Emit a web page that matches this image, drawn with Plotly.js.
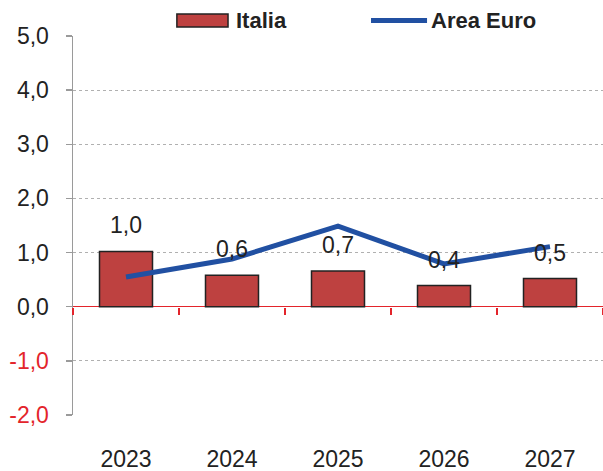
<!DOCTYPE html>
<html>
<head>
<meta charset="utf-8">
<script src="https://cdn.plot.ly/plotly-3.0.1.min.js"></script>
<style>html,body{margin:0;padding:0;background:#fff;}#chart{width:603px;height:471px;}</style>
</head>
<body>
<div id="chart"></div>
<script>
// Data
var categories = ['2023', '2024', '2025', '2026', '2027'];
var italia = [1.02, 0.58, 0.66, 0.39, 0.52];
var italiaLabels = ['1,0', '0,6', '0,7', '0,4', '0,5'];
var areaEuro = [0.55, 0.88, 1.49, 0.79, 1.11];
var yTickVals = [-2, -1, 0, 1, 2, 3, 4, 5];
var seriesNames = ['Italia', 'Area Euro'];

var RED = '#e3242b';
var FONT = '"Liberation Sans", Arial, sans-serif';

var yTickText = yTickVals.map(function (v) {
  var s = v.toFixed(1).replace('.', ',');
  return v < 0 ? '<span style="color:' + RED + '">' + s + '</span>' : s;
});
var boundaries = categories.map(function (_, i) { return i - 0.5; });
boundaries.push(categories.length - 0.5);

var traces = [
  {
    type: 'bar', name: seriesNames[0], x: categories, y: italia,
    marker: { color: '#be4140', line: { color: '#222', width: 1.5 } },
    hoverinfo: 'skip', showlegend: false
  },
  {
    type: 'scatter', mode: 'lines', name: seriesNames[1], x: categories, y: areaEuro,
    line: { color: '#2150a2', width: 5 },
    hoverinfo: 'skip', showlegend: false
  },
  {
    // invisible helper so the boundary-tick axis at zero is drawn
    type: 'scatter', mode: 'markers', x: boundaries, y: boundaries.map(function () { return 0; }),
    xaxis: 'x2', yaxis: 'y', marker: { opacity: 0, size: 1 },
    hoverinfo: 'skip', showlegend: false
  }
];

var annotations = categories.map(function (c, i) {
  return {
    x: i, y: italia[i], xref: 'x', yref: 'y', text: italiaLabels[i],
    showarrow: false, yanchor: 'bottom', yshift: 11,
    font: { family: FONT, size: 23, color: '#222' }
  };
});

// Legend (custom)
annotations.push({
  xref: 'paper', yref: 'paper', x: 0.304, y: 1.042, xanchor: 'left', yanchor: 'middle',
  text: '<b>' + seriesNames[0] + '</b>', showarrow: false,
  font: { family: FONT, size: 22, color: '#222' }
});
annotations.push({
  xref: 'paper', yref: 'paper', x: 0.672, y: 1.042, xanchor: 'left', yanchor: 'middle',
  text: '<b>' + seriesNames[1] + '</b>', showarrow: false,
  font: { family: FONT, size: 22, color: '#222' }
});

var shapes = [
  { type: 'rect', xref: 'paper', yref: 'paper', x0: 0.196, x1: 0.2925, y0: 1.0237, y1: 1.058,
    fillcolor: '#be4140', line: { color: '#222', width: 1.5 } },
  { type: 'line', xref: 'paper', yref: 'paper', x0: 0.5623, x1: 0.668, y0: 1.0409, y1: 1.0409,
    line: { color: '#2150a2', width: 5 } }
];

var layout = {
  width: 603, height: 471,
  margin: { l: 73, r: 0, t: 36, b: 56, pad: 0 },
  paper_bgcolor: '#fff', plot_bgcolor: '#fff',
  separators: ',.',
  font: { family: FONT, size: 23, color: '#222' },
  bargap: 0.5,
  showlegend: false,
  xaxis: {
    type: 'category', range: [-0.5, categories.length - 0.5],
    showgrid: false, zeroline: false, showline: false,
    ticks: 'outside', ticklen: 23, tickcolor: 'rgba(0,0,0,0)',
    tickfont: { family: FONT, size: 23, color: '#222' }
  },
  xaxis2: {
    type: 'linear', overlaying: 'x', anchor: 'free', position: 2 / 7, side: 'bottom',
    range: [-0.5, categories.length - 0.5],
    tickmode: 'array', tickvals: boundaries, showticklabels: false,
    ticks: 'outside', ticklen: 7, tickwidth: 1.5, tickcolor: RED,
    showgrid: false, zeroline: false, showline: false
  },
  yaxis: {
    range: [-2, 5], tickmode: 'array', tickvals: yTickVals, ticktext: yTickText,
    showgrid: true, gridcolor: '#b0b0b0', gridwidth: 1, griddash: 'dot',
    zeroline: true, zerolinecolor: RED, zerolinewidth: 1.5,
    showline: true, linecolor: '#9a9a9a', linewidth: 1.5,
    ticks: 'outside', ticklen: 6, tickcolor: '#9a9a9a', tickwidth: 1.5,
    ticklabelstandoff: 12,
    tickfont: { family: FONT, size: 23, color: '#222' }
  },
  annotations: annotations,
  shapes: shapes
};

Plotly.newPlot('chart', traces, layout, { staticPlot: true, displayModeBar: false });
</script>
</body>
</html>
